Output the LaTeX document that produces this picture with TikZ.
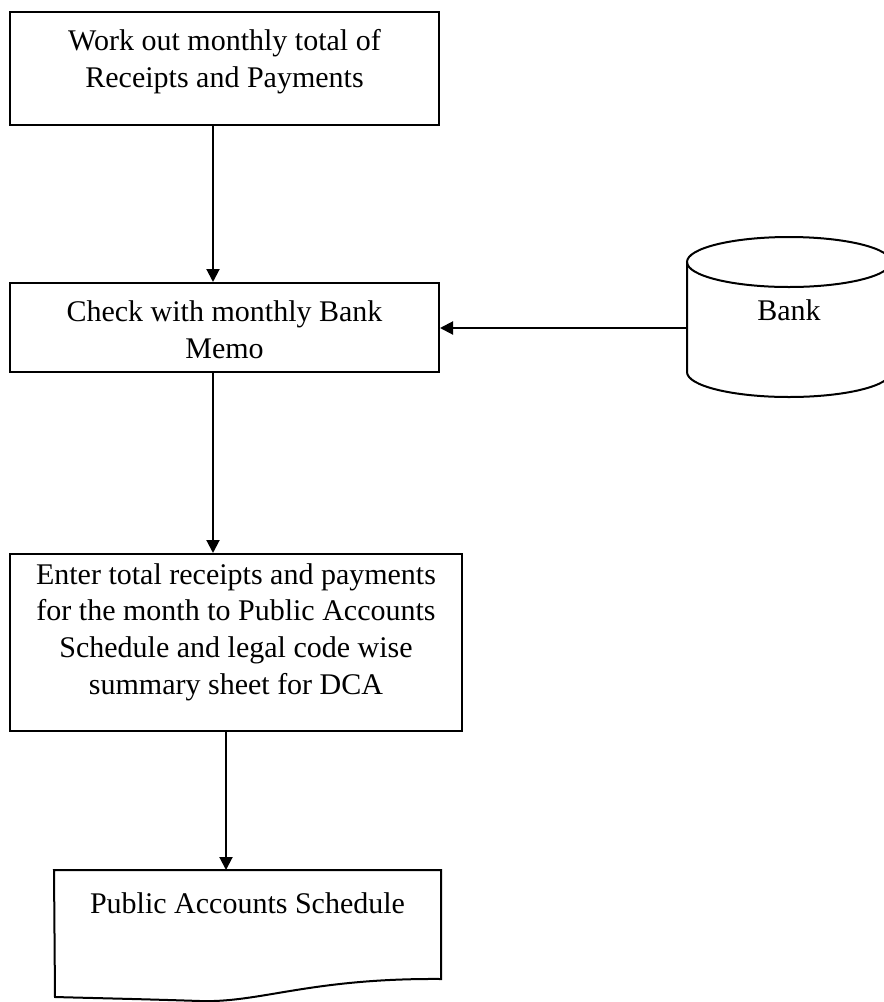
\documentclass[tikz,border=0pt]{standalone}
\usepackage{fontspec}
\setmainfont{Liberation Serif}
\usetikzlibrary{arrows.meta}

\begin{document}
\begin{tikzpicture}[x=0.5pt, y=-0.5pt, line width=1pt,
  box/.style={draw, rectangle, inner sep=0pt},
  lbl/.style={align=center, font=\fontsize{15}{18.3}\selectfont, inner sep=0pt},
  arr/.style={-{Triangle[length=6.5pt,width=6.5pt]}}]
\useasboundingbox (0,0) rectangle (884,1002);

% process boxes
\node[box, minimum width=214.5pt, minimum height=56.5pt] (work) at (224.5,68.5) {};
\node[lbl] (worktext) at (224.5,61.5) {Work out monthly total of\\Receipts and Payments};

\node[box, minimum width=214.5pt, minimum height=44.5pt] (check) at (224.5,327.5) {};
\node[lbl] (checktext) at (224.5,329.5) {Check with monthly Bank\\Memo};

\node[box, minimum width=226pt, minimum height=88.5pt] (entry) at (236,642.5) {};
\node[lbl] (entrytext) at (236,632) {Enter total receipts and payments\\for the month to Public Accounts\\Schedule and legal code wise\\summary sheet for DCA};

% document shape
\node[inner sep=0pt, minimum width=192.5pt, minimum height=53.5pt] (doc) at (247.5,924.5) {};
\draw (doc.south east) .. controls (310,978) and (260,1003) .. (200,1001)
      .. controls (140,999) and (90,998) .. (55,997)
      -- (doc.north west) -- (doc.north east) -- cycle;
\node[lbl] (doctext) at (247.5,903) {Public Accounts Schedule};

% bank store (cylinder)
\draw (789,262) ellipse [x radius=51pt, y radius=12.5pt];
\draw (687,262) -- (687,372) arc[start angle=180, end angle=360, x radius=51pt, y radius=12.5pt] -- (891,262);
\node[lbl] (bank) at (789,310) {Bank};
\coordinate (bankport) at (687,328);

% connectors
\draw[arr] ([xshift=-5.75pt]work.south) -- ([xshift=-5.75pt]work.south |- check.north);
\draw[arr] ([xshift=-5.75pt]check.south) -- ([xshift=-5.75pt]check.south |- entry.north);
\draw[arr] ([xshift=-5pt]entry.south) -- ([xshift=-5pt]entry.south |- doc.north);
\draw[arr] (bankport) -- (check.east |- bankport);
\end{tikzpicture}
\end{document}
